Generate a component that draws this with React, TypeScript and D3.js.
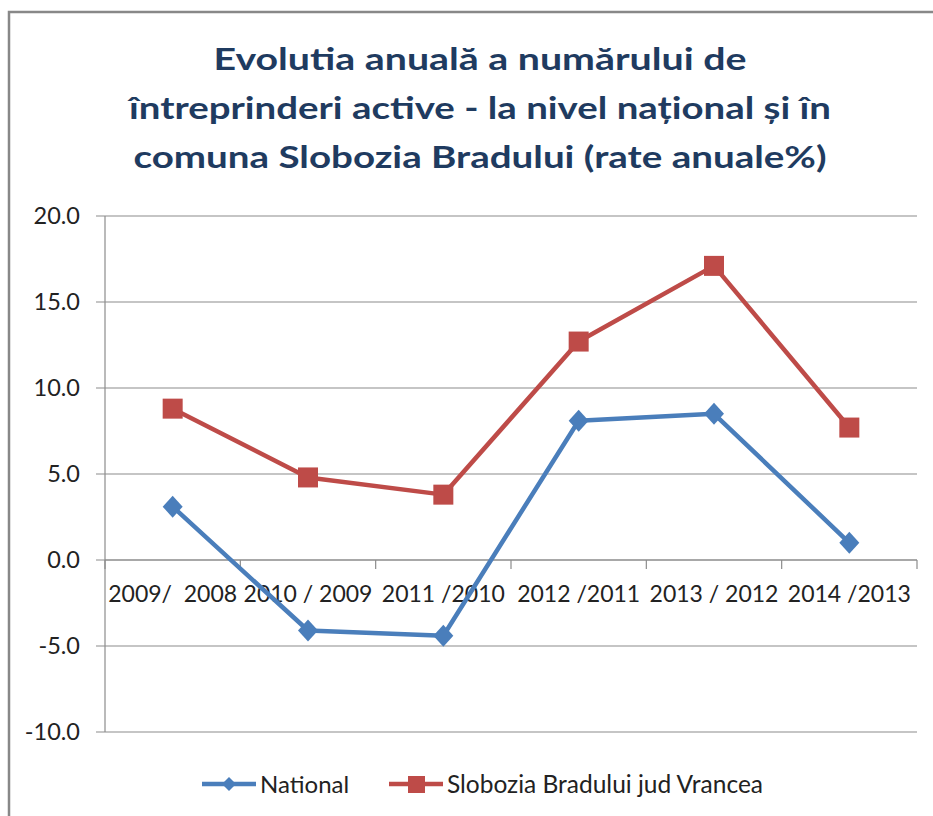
import * as d3 from 'd3';

const categories = ['2009/  2008', '2010 / 2009', '2011 /2010', '2012 /2011', '2013 / 2012', '2014 /2013'];
const nationalValues = [3.1, -4.1, -4.4, 8.1, 8.5, 1.0];
const slobodziaValues = [8.8, 4.8, 3.8, 12.7, 17.1, 7.7];
const yTicks = [-10, -5, 0, 5, 10, 15, 20];
const titleLines = [
  'Evolutia anuală a numărului de',
  'întreprinderi active - la nivel național și în',
  'comuna Slobozia Bradului (rate anuale%)',
];
const seriesNames = ['National', 'Slobozia Bradului jud Vrancea'];

const W = 933;
const H = 816;
const BLUE = '#4A7EBB';
const RED = '#BE4B48';
const GRID = '#8c8c8c';
const FONT = 'Lato, "Open Sans", sans-serif';

export default function App() {
  const x = d3.scaleBand<string>().domain(categories).range([105, 917]).paddingInner(0).paddingOuter(0);
  const y = d3.scaleLinear().domain([-10, 20]).range([732, 216]);
  const cx = (c: string) => x(c)! + x.bandwidth() / 2;

  const line = d3.line<number>()
    .x((_, i) => cx(categories[i]))
    .y(d => y(d));

  // title line geometry (baseline, width)
  const titleBase = [70, 119, 168];
  const titleWidth = [533, 702, 693];

  const bounds = x.domain().map(c => x(c)!).concat([917]);

  return (
    <div style={{ position: 'absolute', left: 0, top: 0 }}>
      <svg width={W} height={H} style={{ display: 'block', background: '#fff' }}>
        <rect x={9} y={12} width={W + 20} height={H + 20} fill="#fff" stroke="#888" strokeWidth={2.5} />

        {titleLines.map((t, i) => (
          <text key={t} x={480} y={titleBase[i]} textAnchor="middle" fontFamily={FONT} fontWeight={700}
            fontSize={30} fill="#1F3B60" textLength={titleWidth[i]} lengthAdjust="spacingAndGlyphs">{t}</text>
        ))}

        {/* gridlines + y ticks */}
        {yTicks.map(t => (
          <g key={t}>
            <line x1={96} x2={917} y1={y(t)} y2={y(t)} stroke={GRID} strokeWidth={1.2} />
            <text x={80} y={y(t)} dy="0.36em" textAnchor="end" fontFamily={FONT} fontSize={23.5} fill="#222">
              {t.toFixed(1)}
            </text>
          </g>
        ))}
        <line x1={105} x2={105} y1={y(20)} y2={y(-10)} stroke={GRID} strokeWidth={1.2} />

        {/* x axis at zero */}
        <line x1={105} x2={917} y1={y(0)} y2={y(0)} stroke={GRID} strokeWidth={1.2} />
        {bounds.map((b, i) => (
          <line key={i} x1={b} x2={b} y1={y(0)} y2={y(0) + 9} stroke={GRID} strokeWidth={1.2} />
        ))}
        {categories.map(c => (
          <text key={c} x={cx(c)} y={602} textAnchor="middle" fontFamily={FONT} fontSize={23} fill="#222"
            style={{ whiteSpace: 'pre' }}>{c}</text>
        ))}

        {/* series */}
        <path d={line(slobodziaValues)!} fill="none" stroke={RED} strokeWidth={4.5} strokeLinejoin="round" />
        <path d={line(nationalValues)!} fill="none" stroke={BLUE} strokeWidth={4.5} strokeLinejoin="round" />
        {slobodziaValues.map((v, i) => (
          <rect key={i} x={cx(categories[i]) - 10} y={y(v) - 10} width={20} height={20} fill={RED} />
        ))}
        {nationalValues.map((v, i) => {
          const px = cx(categories[i]);
          const py = y(v);
          return <path key={i} d={`M${px},${py - 11}L${px + 10},${py}L${px},${py + 11}L${px - 10},${py}Z`} fill={BLUE} />;
        })}

        {/* legend */}
        <g>
          <line x1={202} x2={256} y1={784} y2={784} stroke={BLUE} strokeWidth={4.5} />
          <path d={`M229,777L236,784L229,791L222,784Z`} fill={BLUE} />
          <text x={260} y={784} dy="0.36em" fontFamily={FONT} fontSize={24} fill="#222">{seriesNames[0]}</text>
          <line x1={389} x2={443} y1={784} y2={784} stroke={RED} strokeWidth={4.5} />
          <rect x={408} y={776} width={17} height={17} fill={RED} />
          <text x={447} y={784} dy="0.36em" fontFamily={FONT} fontSize={24.5} fill="#222">{seriesNames[1]}</text>
        </g>
      </svg>
    </div>
  );
}
